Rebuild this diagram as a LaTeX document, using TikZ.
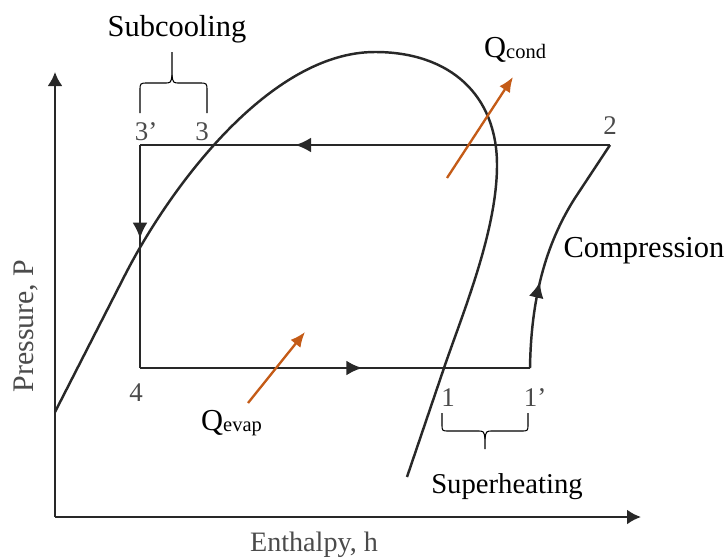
\documentclass[tikz,border=0pt]{standalone}
\usepackage{fontspec}
\setmainfont{Liberation Serif}
\usetikzlibrary{arrows.meta,decorations.markings}
\definecolor{cycdark}{RGB}{40,40,40}
\definecolor{numgray}{RGB}{75,75,75}
\definecolor{heatorange}{RGB}{196,91,23}

\begin{document}
\begin{tikzpicture}[x=0.03cm,y=-0.03cm,>=Latex]
\tikzstyle{line}=[draw=cycdark,line width=2.1pt]
\tikzstyle{lbl}=[font=\fontsize{26}{28}\selectfont,inner sep=0pt,anchor=base]
\tikzstyle{axlbl}=[font=\fontsize{24}{26}\selectfont,text=numgray,inner sep=0pt]
\tikzstyle{num}=[font=\fontsize{23}{25}\selectfont,text=numgray,inner sep=0pt,anchor=base]
\tikzstyle{heat}=[->,heatorange,line width=2pt,>={Latex[length=4.5mm,width=3.8mm]}]
\tikzstyle{brace}=[draw=black,line width=0.9pt]
\tikzset{flow/.style={line,decoration={markings,mark=at position #1 with {\arrow{Latex[length=4.8mm,width=4.5mm]}}},postaction={decorate}}}
\useasboundingbox (0,0) rectangle (728,559);
% axes
\coordinate (o) at (55,517);
\coordinate (ytip) at (55,72);
\coordinate (xtip) at (641,517);
\draw[line,->,>={Latex[length=4.2mm,width=4.5mm]}] (o) -- (ytip);
\draw[line,->,>={Latex[length=4.2mm,width=4.5mm]}] (o) -- (xtip);
\node[axlbl,rotate=90,font=\fontsize{25.5}{27}\selectfont] (pres) at (26,326) {Pressure, P};
\node[axlbl,anchor=base] (enth) at (314,551) {Enthalpy, h};
% saturation dome
\draw[line] (55,412) -- (125,275) .. controls (170,187) and (270,52) .. (375,52)
  .. controls (450,52) and (497,95) .. (497,165)
  .. controls (497,230) and (464,310) .. (445,365) -- (407,477);
% cycle
\coordinate (p2) at (610,145);
\coordinate (p3p) at (140,145);
\coordinate (p4) at (140,368);
\coordinate (p1p) at (530,368);
\draw[flow=0.67] (p2) -- (p3p);
\draw[flow=0.42] (p3p) -- (p4);
\draw[flow=0.57] (p4) -- (p1p);
\draw[flow=0.36] (p1p) .. controls (531,300) and (545,245) .. (575,198) -- (p2);
% state labels
\node[num] (n2) at (610,134) {2};
\node[num] (n3p) at (146,140) {3’};
\node[num] (n3) at (202,140) {3};
\node[num] (n4) at (136,401) {4};
\node[num] (n1) at (448,406) {1};
\node[num] (n1p) at (535,406) {1’};
% braces
\draw[brace] (140,113) -- (140,91) .. controls (140,83) .. (148,83) -- (164,83) .. controls (171,83) .. (172,75) -- (172,52);
\draw[brace] (207,113) -- (207,91) .. controls (207,83) .. (199,83) -- (180,83) .. controls (173,83) .. (172,75);
\draw[brace] (442,413) -- (442,424) .. controls (442,431) .. (449,431) -- (477,431) .. controls (484,431) .. (485,439) -- (485,449);
\draw[brace] (528,413) -- (528,424) .. controls (528,431) .. (521,431) -- (493,431) .. controls (486,431) .. (485,439);
\node[lbl] (subc) at (177,36) {Subcooling};
\node[lbl,font=\fontsize{24.5}{26}\selectfont] (suph) at (507,493) {Superheating};
\node[lbl] (comp) at (644,257) {Compression};
% heat flows
\coordinate (qe0) at (248,403);
\coordinate (qe1) at (305,332);
\coordinate (qc0) at (447,178);
\coordinate (qc1) at (513,77);
\draw[heat] (qe0) -- (qe1);
\draw[heat] (qc0) -- (qc1);
\node[font=\fontsize{26}{28}\selectfont,inner sep=0pt,anchor=base west] (qevap) at (201,430) {Q\raisebox{-1.5pt}{\fontsize{17.5}{19}\selectfont evap}};
\node[font=\fontsize{26}{28}\selectfont,inner sep=0pt,anchor=base west] (qcond) at (484,57) {Q\raisebox{-1.5pt}{\fontsize{17.5}{19}\selectfont cond}};
\end{tikzpicture}
\end{document}
